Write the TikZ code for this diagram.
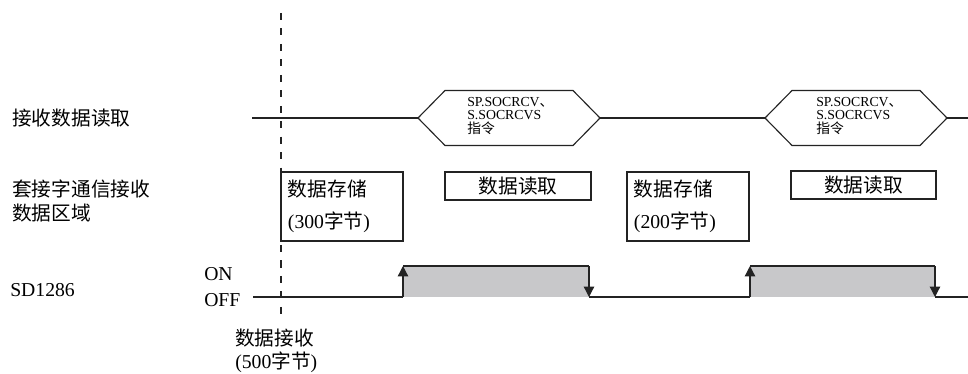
\documentclass[tikz,border=0pt]{standalone}
\usepackage{fontspec}
\setmainfont{Liberation Serif}
\newfontfamily\cjk{Noto Sans CJK SC}
\usetikzlibrary{arrows.meta, positioning}
\definecolor{mydark}{RGB}{35,35,35}
\definecolor{mygray}{RGB}{200,200,202}
\newcommand{\zh}[1]{{\cjk #1}}
\tikzset{
  lbl/.style={anchor=west, inner sep=0pt, align=left,
    font=\fontsize{14}{16.5}\selectfont},
  databox/.style={draw=mydark, line width=0.8pt, inner xsep=0.175cm,
    inner ysep=0pt, font=\fontsize{14}{22.5}\selectfont},
  cmdtext/.style={anchor=west, inner sep=0pt, align=left,
    font=\fontsize{9.8}{9.6}\selectfont},
  hexline/.style={draw=mydark, line width=0.8pt},
  sigline/.style={draw=mydark, line width=0.9pt},
  edge/.style={sigline, -{Triangle[width=0.26cm, length=0.26cm]}},
  marker/.style={draw=mydark, line width=0.9pt, dash pattern=on 5pt off 6pt}
}

\begin{document}
\begin{tikzpicture}[x=0.025cm, y=-0.025cm]
  \useasboundingbox (0,0) rectangle (968,374);

  % Row labels
  \node[lbl] (rdlbl) at (12,118) {\zh{接收数据读取}};
  \node[lbl] (arealbl) at (12,201) {\zh{套接字通信接收}\\\zh{数据区域}};
  \node[lbl] (sdlbl) at (10,290) {SD1286};
  \node[lbl] (onlbl) at (204,274) {ON};
  \node[lbl] (offlbl) at (204,300) {OFF};
  \node[lbl] (rcvlbl) at (235,351) {\zh{数据接收}\\(500\zh{字节})};

  % Receive marker
  \coordinate (marktop) at (281,13);
  \coordinate (markbot) at (281,322);
  \draw[marker] (marktop) -- (markbot);

  % Data area boxes
  \node[databox, text width=2.7cm, align=left, minimum height=1.725cm] (store1) at (342,206.5)
    {\zh{数据存储}\\(300\zh{字节})};
  \node[databox, minimum width=3.65cm, minimum height=0.7cm] (read1) at (518,186) {\zh{数据读取}};
  \node[databox, text width=2.7cm, align=left, minimum height=1.725cm] (store2) at (688,206.5)
    {\zh{数据存储}\\(200\zh{字节})};
  \node[databox, minimum width=3.625cm, minimum height=0.7cm] (read2) at (863.5,185) {\zh{数据读取}};

  % Instruction row
  \coordinate (rdstart) at (252,118);
  \coordinate (cmd1w) at (418,118);
  \coordinate (cmd1e) at (600,118);
  \coordinate (cmd2w) at (765,118);
  \coordinate (cmd2e) at (947,118);
  \coordinate (rdend) at (968,118);
  \draw[hexline] (cmd1w) -- (445,90.5) -- (573,90.5) -- (cmd1e) -- (573,145.5) -- (445,145.5) -- cycle;
  \draw[hexline] (cmd2w) -- (792,90.5) -- (920,90.5) -- (cmd2e) -- (920,145.5) -- (792,145.5) -- cycle;
  \node[cmdtext] (cmd1) at (467,116) {SP.SOCRCV\zh{、}\\S.SOCRCVS\\\zh{指令}};
  \node[cmdtext] (cmd2) at (816,116) {SP.SOCRCV\zh{、}\\S.SOCRCVS\\\zh{指令}};
  \draw[hexline] (rdstart) -- (cmd1w);
  \draw[hexline] (cmd1e) -- (cmd2w);
  \draw[hexline] (cmd2e) -- (rdend);

  % SD1286 signal
  \fill[mygray] (403,266) rectangle (589,297);
  \fill[mygray] (750,266) rectangle (935,297);
  \coordinate (off0) at (253,297);
  \coordinate (up1) at (403,297);
  \coordinate (on1) at (403,266);
  \coordinate (hi1) at (589,266);
  \coordinate (dn1) at (589,297);
  \coordinate (up2) at (750,297);
  \coordinate (on2) at (750,266);
  \coordinate (hi2) at (935,266);
  \coordinate (dn2) at (935,297);
  \coordinate (off9) at (968,297);
  \draw[sigline] (off0) -- (up1);
  \draw[edge] (up1) -- (on1);
  \draw[sigline] (on1) -- (hi1);
  \draw[edge] (hi1) -- (dn1);
  \draw[sigline] (dn1) -- (up2);
  \draw[edge] (up2) -- (on2);
  \draw[sigline] (on2) -- (hi2);
  \draw[edge] (hi2) -- (dn2);
  \draw[sigline] (dn2) -- (off9);
\end{tikzpicture}
\end{document}
